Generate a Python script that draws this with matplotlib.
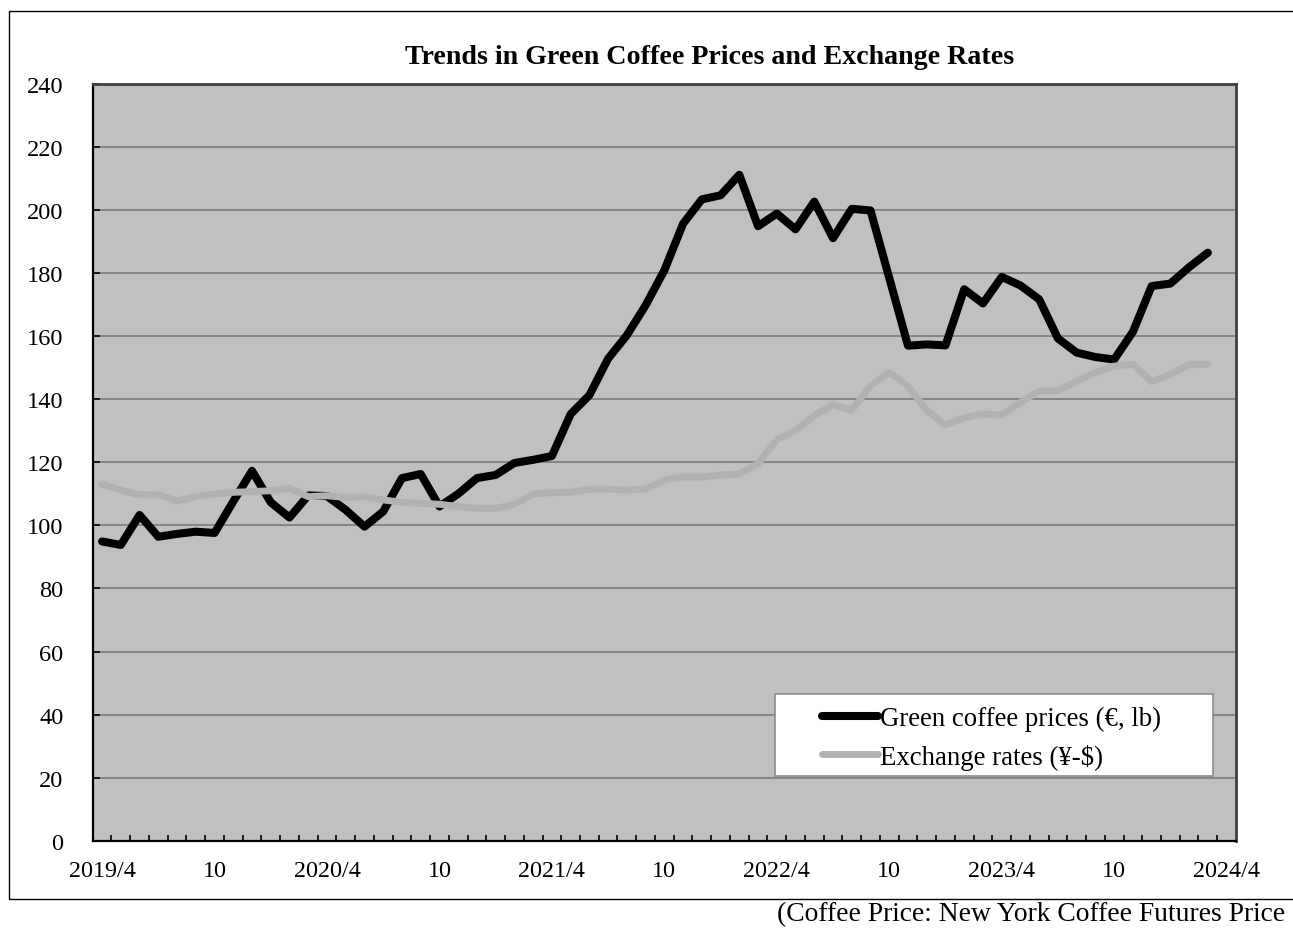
import numpy as np
import matplotlib
matplotlib.use("Agg")
import matplotlib.pyplot as plt
from matplotlib.patches import Rectangle
from matplotlib.lines import Line2D

plt.rcParams['font.family'] = ['Liberation Serif', 'DejaVu Serif']

# monthly data, 2019/4 .. 2024/3
coffee = [94.9, 93.8, 103.3, 96.4, 97.3, 98.0, 97.6, 107.6, 117.3, 107.3,
          102.5, 109.5, 109.3, 104.9, 99.6, 104.4, 115.0, 116.3, 106.0, 110.0,
          115.0, 116.0, 119.8, 120.8, 122.0, 135.3, 141.3, 152.9, 160.3, 169.8,
          180.9, 195.7, 203.4, 204.7, 211.2, 194.9, 198.9, 193.9, 202.7, 191.1,
          200.4, 199.9, 178.5, 157.0, 157.4, 157.1, 174.9, 170.4, 178.8, 176.1,
          171.7, 159.3, 154.8, 153.4, 152.6, 161.4, 175.9, 176.7, 181.9, 186.5]
exchange = [113.0, 111.2, 109.7, 109.7, 107.7, 109.1, 109.9, 110.5, 110.7, 111.0,
            111.8, 109.1, 109.4, 108.9, 109.1, 108.1, 107.3, 107.0, 106.7, 106.0,
            105.4, 105.4, 106.7, 109.9, 110.4, 110.5, 111.5, 111.5, 111.2, 111.5,
            114.4, 115.4, 115.3, 116.0, 116.3, 119.6, 127.2, 130.1, 134.8, 138.2,
            136.5, 144.3, 148.5, 144.2, 136.4, 131.9, 134.2, 135.3, 135.0, 139.0,
            142.6, 142.7, 145.7, 148.5, 150.5, 151.1, 145.6, 147.9, 151.0, 151.1]
n_categories = 61  # axis runs to 2024/4
tick_labels = ['2019/4', '10', '2020/4', '10', '2021/4', '10',
               '2022/4', '10', '2023/4', '10', '2024/4']
series_labels = ['Green coffee prices (€, lb)', 'Exchange rates (¥-$)']

fig = plt.figure(figsize=(12.93, 9.29), dpi=100)
ax = fig.add_axes([0.0717, 0.094, 0.8842, 0.8145])
ax.set_facecolor('#c0c0c0')

x = np.arange(len(coffee))
ax.plot(x, coffee, color='black', lw=5.8, solid_capstyle='round',
        solid_joinstyle='round', zorder=3)
ax.plot(x, exchange, color='#b2b2b2', lw=5.0, solid_capstyle='round',
        solid_joinstyle='round', zorder=4)

ax.set_xlim(-0.5, n_categories - 0.5)
ax.set_ylim(0, 240)
ax.set_yticks(range(0, 241, 20))
ax.yaxis.grid(True, color='#808080', lw=1.3)
ax.set_axisbelow(True)

ax.set_xticks(np.arange(0, n_categories, 6))
ax.set_xticklabels(tick_labels)
ax.set_xticks(np.arange(0.5, n_categories - 1, 1), minor=True)
ax.tick_params(axis='x', which='major', length=0, pad=14, labelsize=17.4)
ax.tick_params(axis='x', which='minor', direction='in', length=4.2, width=1.2)
ax.tick_params(axis='y', which='major', direction='in', length=5, width=1.2,
               pad=21, labelsize=17.6)

for s in ['left', 'bottom']:
    ax.spines[s].set_color('black')
    ax.spines[s].set_linewidth(1.6)
for s in ['top', 'right']:
    ax.spines[s].set_color('#404040')
    ax.spines[s].set_linewidth(2.0)

# legend box
ax.add_patch(Rectangle((0.5968, 0.0855), 0.3832, 0.1084, transform=ax.transAxes,
                       facecolor='white', edgecolor='#8c8c8c', lw=1.2, zorder=5))
handles = [Line2D([], [], color='black', lw=5.8, solid_capstyle='round'),
           Line2D([], [], color='#b2b2b2', lw=5.0, solid_capstyle='round')]
leg = ax.legend(handles, series_labels, loc='upper left',
                bbox_to_anchor=(0.6376, 0.178), frameon=False,
                borderpad=0, borderaxespad=0, handlelength=2.1,
                handletextpad=0.08, labelspacing=0.47, fontsize=19.3)
leg.set_zorder(6)

fig.text(0.549, 0.9386, 'Trends in Green Coffee Prices and Exchange Rates',
         ha='center', va='center', fontsize=20.2, fontweight='bold')

# outer chart frame (right edge runs off the canvas)
fig.add_artist(Rectangle((0.007, 0.0312), 1.0, 0.956, transform=fig.transFigure,
                         fill=False, edgecolor='black', lw=1.0))

fig.text(0.601, 0.0085, '(Coffee Price: New York Coffee Futures Price',
         ha='left', va='baseline', fontsize=19.8)

fig.savefig('out.png', dpi=100)
